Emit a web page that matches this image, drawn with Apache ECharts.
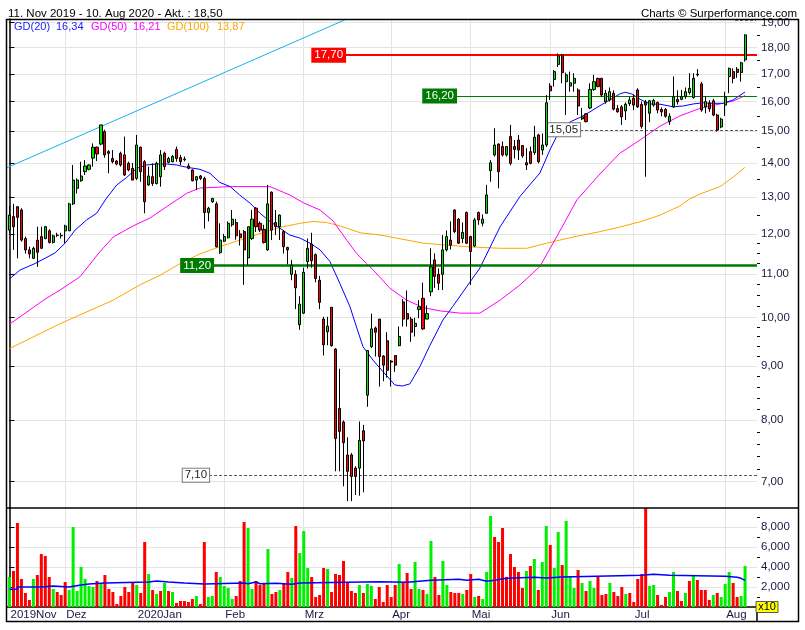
<!DOCTYPE html>
<html><head><meta charset="utf-8">
<script src="https://cdn.jsdelivr.net/npm/echarts@6/dist/echarts.min.js"></script>
<style>html,body{margin:0;padding:0;background:#fff}#c{width:805px;height:630px}</style>
</head><body><div id="c"></div>
<script>
// ---------- data ----------
const monthStarts = [0,14,32,54,74,96,116,136,157,180];
const monthLabels = ['2019Nov','Dez','2020Jan','Feb','Mrz','Apr','Mai','Jun','Jul','Aug'];
const priceTicks = [7,8,9,10,11,12,13,14,15,16,17,18,19];
const priceMinorTicks = [7.2,7.4,7.6,7.8,8.2,8.4,8.6,8.8,9.2,9.4,9.6,9.8,10.25,10.5,10.75,11.25,11.5,11.75,12.5,13.5,14.5,15.5,16.5,17.5,18.5];
const volTicks = [2000,4000,6000,8000];
const volMinorTicks = [1000,3000,5000,7000,9000];
// [open, close, low, high]
const candles = [
[12.10,12.50,12.03,12.75],[12.46,12.19,11.59,12.81],[12.73,12.44,11.38,12.75],[12.64,11.84,11.80,12.69],[11.88,11.59,11.50,11.93],
[11.59,11.49,11.38,11.67],[11.38,11.63,11.36,11.67],[11.84,11.53,11.17,12.19],[11.93,11.63,11.62,12.19],[11.88,12.19,11.86,12.21],
[12.08,11.78,11.75,12.12],[11.78,11.95,11.75,11.98],[11.97,11.96,11.92,12.03],[11.96,11.95,11.88,12.03],[12.08,12.21,11.76,12.24],
[12.08,12.81,12.08,12.84],[12.81,13.49,12.78,13.94],[13.25,13.49,13.10,13.54],[13.47,13.61,13.44,14.04],[13.74,13.91,13.64,14.09],
[13.81,13.94,13.78,13.96],[14.15,14.49,13.89,14.61],[14.49,14.28,14.06,14.51],[14.59,15.21,14.55,15.21],[14.99,14.25,14.16,15.05],
[14.35,14.30,13.69,14.40],[14.14,14.04,13.99,14.40],[14.06,13.97,13.93,14.09],[14.30,13.94,13.89,14.35],[14.25,13.64,13.61,14.83],
[13.99,13.79,13.75,14.04],[13.84,13.49,13.49,14.00],[13.54,14.56,13.49,14.88],[14.49,13.74,13.44,14.51],[14.04,12.87,12.55,14.09],
[13.35,13.61,13.32,13.89],[13.59,13.39,13.32,13.99],[13.39,13.99,13.36,14.04],[13.59,14.25,13.30,14.40],[14.30,13.89,13.79,14.35],
[14.02,14.14,13.99,14.19],[14.04,14.20,14.02,14.25],[14.42,14.14,14.04,14.51],[14.17,14.04,13.94,14.25],[14.12,14.10,14.05,14.20],
[13.91,13.84,13.81,13.99],[13.79,13.47,13.45,13.81],[13.49,13.59,13.20,13.61],[13.61,13.54,13.49,13.64],[13.54,12.57,12.14,13.59],
[12.57,12.69,12.33,12.73],[12.87,12.96,12.84,12.98],[12.81,11.67,11.65,12.87],[11.52,11.84,11.49,12.28],[11.81,11.93,11.79,12.00],
[11.90,12.28,11.88,12.33],[12.24,12.39,12.19,12.64],[12.30,11.95,11.85,12.40],[12.00,11.90,11.70,12.10],[12.06,11.59,10.74,12.10],
[11.39,12.19,11.22,12.19],[11.88,12.39,11.84,12.64],[12.69,12.19,12.05,12.72],[12.28,12.10,12.05,12.33],[12.12,11.78,11.75,12.24],
[11.59,12.81,11.57,13.35],[13.14,12.10,11.84,13.16],[12.30,12.19,11.97,12.64],[12.19,12.50,11.84,12.52],[12.06,11.67,11.50,12.10],
[11.65,11.59,11.23,11.67],[10.99,11.21,10.85,11.34],[10.99,10.67,10.19,11.09],[9.85,10.30,9.74,10.48],[10.10,11.04,10.08,11.15],
[11.30,11.63,11.13,11.88],[11.74,11.32,11.15,12.03],[11.47,10.89,10.80,11.50],[10.85,10.34,10.19,10.95],[9.97,9.43,9.21,10.02],
[9.70,9.82,9.42,10.02],[10.23,9.41,9.39,10.23],[9.34,7.69,7.16,9.36],[8.21,7.81,7.16,8.95],[7.97,7.62,6.93,8.00],
[7.42,7.16,6.71,7.71],[7.42,7.08,6.71,7.45],[7.21,7.08,6.80,7.24],[7.21,7.66,6.79,7.98],[7.82,7.65,6.84,7.92],
[8.45,9.31,8.24,9.32],[9.39,9.76,9.36,10.09],[9.78,9.69,9.19,9.81],[9.97,9.19,8.61,9.97],[9.20,9.02,8.71,9.22],
[9.51,8.92,8.78,9.69],[9.10,9.08,8.61,9.12],[9.21,9.02,8.89,9.22],[9.41,9.60,9.40,9.81],[10.35,9.97,9.81,10.41],
[10.09,9.97,9.81,10.61],[9.97,9.69,9.49,10.02],[9.81,9.88,9.60,10.00],[10.18,10.24,9.99,10.39],[10.43,9.76,9.74,10.79],
[9.97,10.09,9.97,10.27],[10.58,11.17,10.48,11.63],[11.34,10.94,10.67,11.50],[10.99,10.78,10.62,11.13],[10.99,11.59,10.62,11.97],
[11.59,11.93,11.55,12.09],[11.84,11.71,11.60,12.33],[12.64,12.06,12.02,12.66],[12.39,11.76,11.74,12.42],[11.88,12.04,11.76,12.30],
[12.57,11.76,11.74,12.60],[11.93,11.55,10.74,11.95],[11.69,12.37,11.66,12.42],[12.57,12.37,12.24,12.60],[12.28,12.39,12.20,12.52],
[12.55,13.06,12.55,13.35],[13.77,14.01,13.44,14.09],[14.25,14.56,14.20,15.10],[14.59,13.74,13.25,14.61],[14.51,14.25,14.20,14.67],
[14.25,14.51,14.20,14.53],[14.83,13.99,13.93,15.21],[14.51,14.42,14.14,14.72],[14.72,14.40,14.09,14.88],[14.54,14.22,14.16,14.56],
[14.01,13.94,13.79,14.46],[14.35,13.99,13.96,14.51],[14.32,14.81,14.25,15.18],[14.88,14.04,13.99,14.92],[14.40,14.56,14.25,14.93],
[14.56,15.96,14.50,16.23],[16.55,16.38,16.06,16.65],[16.79,17.08,16.53,17.14],[17.35,17.67,17.25,17.77],[17.71,17.04,16.65,17.75],
[16.71,16.96,15.54,17.04],[16.55,16.67,16.35,17.08],[16.65,16.83,16.35,17.02],[16.41,15.85,15.54,16.47],[15.41,15.48,15.37,15.78],
[15.58,15.32,15.29,15.60],[15.78,16.43,15.74,16.65],[16.43,16.71,16.38,16.96],[16.83,16.53,16.51,16.85],[16.83,16.23,16.17,16.85],
[16.00,16.29,15.93,16.41],[16.06,16.35,16.00,16.50],[16.29,15.74,15.70,16.40],[15.76,15.65,15.62,15.88],[15.82,15.48,15.21,15.88],
[15.68,15.91,15.37,15.97],[15.93,16.06,15.85,16.16],[16.12,15.88,15.71,16.25],[16.41,15.82,15.78,16.47],[15.90,15.16,15.09,16.00],
[15.99,15.88,13.59,16.06],[15.60,16.03,15.30,16.06],[15.88,16.04,15.82,16.10],[15.97,15.71,15.60,16.00],[15.73,15.65,15.50,15.80],
[15.73,15.50,15.45,15.78],[15.32,15.50,15.21,15.60],[15.82,16.17,15.78,16.90],[16.08,16.00,15.90,16.40],[16.08,16.17,16.05,16.41],
[16.17,16.35,16.10,16.50],[16.32,16.47,16.25,17.02],[16.14,16.83,16.10,17.02],[16.98,16.96,16.90,17.17],[16.63,15.71,15.65,16.70],
[15.82,16.00,15.60,16.20],[15.95,15.75,15.65,16.05],[16.03,15.54,15.50,16.10],[15.54,15.04,14.99,15.58],[15.14,15.40,15.10,15.45],
[15.88,16.17,15.51,16.35],[16.90,17.20,16.30,17.23],[17.08,16.83,16.65,17.20],[17.17,17.05,16.85,17.25],[17.05,17.41,16.71,17.45],
[17.52,18.50,17.45,18.52]
];
const volumes = [
3000,3600,8400,2800,1400,700,2800,3200,5300,5100,3000,1800,1500,1200,2500,1700,8000,1600,4000,2800,
2100,2000,2600,2300,3200,1800,1500,300,1100,2000,1500,2500,2200,1400,6500,3300,1700,1300,1600,2400,
1600,1500,400,600,600,500,800,1100,300,6500,1000,1100,3500,3000,2100,1900,800,1100,2600,8500,
7900,1800,2600,2200,2400,5800,1300,1500,1700,2300,3500,2900,8100,5400,7600,3900,3000,1000,1200,3900,
3800,1500,3300,3200,4600,2400,1600,1400,2200,1400,2300,2100,800,2000,500,2200,1000,2200,4300,2500,
3400,1800,4500,1800,1700,1300,6600,3000,1200,4600,2200,1500,1400,1400,1300,1700,3300,1000,1100,800,
3500,9100,7000,6500,7900,3000,5300,4000,3500,1900,3600,4100,4800,1700,4500,8100,6200,3900,7500,4200,
8600,3100,1900,3700,2400,1600,2600,1900,3100,1200,1300,2400,1500,1100,2000,1300,1400,500,2800,3300,
9900,2100,2200,1200,200,1000,1500,3500,1600,600,1400,2600,3200,2700,1700,1700,700,1200,1400,1000,
2300,3500,2400,1000,1100,4100
];
const volUp = [
1,0,0,0,0,0,1,0,0,0,0,1,0,0,0,1,1,1,1,1,
1,1,0,1,0,0,0,0,0,0,0,0,1,0,0,1,0,1,0,1,
0,1,0,0,0,0,0,1,0,0,1,1,0,1,1,1,1,0,0,0,
1,1,0,0,0,1,0,0,1,0,0,1,0,1,1,1,0,0,0,0,
1,0,0,0,0,0,0,0,1,0,1,1,0,0,0,0,0,0,1,0,
0,0,1,1,0,1,1,0,0,1,1,0,0,0,1,0,0,1,0,1,
1,1,0,0,0,0,0,0,0,0,1,0,1,0,1,1,0,1,1,0,
1,1,1,0,1,0,1,1,0,0,0,1,0,0,0,1,0,0,0,0,
0,1,1,0,0,0,1,1,0,0,1,0,1,0,0,0,0,1,0,1,
1,1,0,0,1,1
];
// moving averages read at sample points [day index, price]
const gd20 = [[0,10.88],[2.6,11.09],[6.4,11.25],[11.4,11.51],[14,11.76],[16.5,12.10],[19.4,12.37],[21.9,12.55],[24.4,12.97],[27,13.35],[29.5,13.57],[32,13.84],[34.5,13.94],[37,13.97],[39.5,13.97],[42,13.94],[44.6,13.87],[47.9,13.81],[50.4,13.69],[52.9,13.42],[55.5,13.30],[57.9,13.06],[60.5,12.83],[63,12.55],[65.5,12.33],[68,12.15],[70.5,11.97],[73.1,11.89],[75.6,11.76],[78.1,11.59],[80.6,11.30],[83.1,10.77],[85.6,10.25],[86.4,10.03],[88.9,9.39],[91.4,9.12],[94.9,8.81],[96.9,8.64],[98.8,8.62],[100.7,8.66],[103.2,8.99],[105.7,9.41],[109,9.95],[111.5,10.25],[115,10.70],[118.3,11.14],[123.4,12.19],[128.4,13.02],[133.4,13.70],[135.9,14.40],[138.4,15.04],[141,15.31],[143.5,15.46],[146,15.65],[148.5,15.86],[151,16.06],[153.5,16.27],[154.8,16.33],[156.5,16.27],[158.6,16.08],[161.1,15.92],[163.6,15.91],[167,15.82],[169.5,15.85],[172,15.92],[174.5,15.96],[177,15.94],[179.5,15.94],[182,16.06],[185,16.34]];
const gd50 = [[0,9.86],[8.9,10.41],[12.7,10.62],[17.7,10.93],[22.8,11.55],[26.1,11.92],[31.1,12.21],[35.3,12.42],[39.5,12.73],[44.6,13.11],[47.9,13.26],[55.5,13.30],[65.5,13.30],[70.5,13.06],[73.9,12.84],[78.1,12.64],[81.4,12.34],[84.8,11.84],[87.3,11.50],[89.8,11.25],[91.5,11.09],[95.7,10.66],[99.9,10.39],[104.1,10.22],[108.3,10.15],[113.3,10.10],[118.3,10.10],[123.4,10.39],[128.4,10.74],[133.4,11.18],[137.6,11.92],[142.7,12.92],[148.5,13.67],[153.5,14.30],[158.6,14.72],[163.6,15.17],[168.6,15.51],[173.7,15.77],[178.7,15.92],[182,16.02],[185,16.21]];
const gd100 = [[0,9.35],[12.7,9.87],[26.1,10.39],[32.8,10.74],[37.9,10.97],[42.9,11.25],[47.9,11.49],[52.9,11.67],[58,11.84],[63,12.01],[68,12.17],[73.1,12.28],[76.4,12.33],[79.8,12.30],[83.1,12.21],[88.2,12.03],[93.2,11.97],[97.4,11.89],[104.1,11.76],[110,11.71],[115,11.67],[123.4,11.63],[130.1,11.63],[135.1,11.76],[141.8,11.92],[148.5,12.06],[153.5,12.18],[158.6,12.32],[163.6,12.50],[168.6,12.75],[171.1,12.95],[173.7,13.09],[178.7,13.30],[182,13.58],[185,13.87]];
const volAvg = [[0,1770],[2,2000],[8,2100],[11,2000],[15,2200],[18,2300],[20,2400],[24,2500],[35,2600],[37,2500],[40,2400],[44,2300],[49,2400],[59,2330],[60,2500],[62,2330],[63,2370],[67,2270],[71,2400],[73,2530],[93,2470],[100,2570],[103,2670],[106,2770],[113,2670],[115,2770],[118,2570],[120,2670],[122,2870],[125,2970],[132,2900],[135,3000],[139,3170],[159,3270],[162,3170],[166,3070],[180,2970],[183,2870],[184,2670],[185,2670]];
const trendLine = [[-0.63,13.86],[84.83,19.15]];
const levelValues = [17.70,16.20,11.20,15.05,7.10];
const maLast = [16.34,16.21,13.87];

// ---------- chart ----------
const L = Math.log;
const fmt = v => v.toFixed(2).replace('.', ',');
const FONT = 'Liberation Sans';
const LBL = '#1a1a40';
const XMIN = -0.63, XMAX = 188.0;
const YMIN = L(6.611), YMAX = L(19.15);
const GRIDC = '#e4e4e4';

function level(v, startX, opt) {
  return [
    { coord: [startX, L(v)], lineStyle: opt.line,
      label: { show: true, position: 'start', distance: 0, formatter: fmt(v), fontFamily: FONT, fontSize: 11.5,
        color: opt.text, backgroundColor: opt.bg, borderColor: opt.border || opt.bg, borderWidth: 1, padding: [1, 2, 0, 2] } },
    { coord: [XMAX, L(v)] }
  ];
}

const chart = echarts.init(document.getElementById('c'), null, { renderer: 'canvas' });
chart.setOption({
  animation: false,
  backgroundColor: '#fff',
  textStyle: { fontFamily: FONT },
  grid: [
    { left: 7, top: 19, width: 750, height: 489 },
    { left: 7, top: 508, width: 750, height: 99 }
  ],
  xAxis: [
    { type: 'value', gridIndex: 0, min: XMIN, max: XMAX,
      axisLine: { show: false }, axisTick: { show: false, customValues: monthStarts.slice(1) },
      axisLabel: { show: false }, splitLine: { show: true, lineStyle: { color: GRIDC, width: 1 } } },
    { type: 'value', gridIndex: 1, min: XMIN, max: XMAX,
      axisLine: { show: true, onZero: false, lineStyle: { color: '#000', width: 1.5 } },
      axisTick: { show: false, customValues: monthStarts.slice(1) },
      axisLabel: { show: true, customValues: monthStarts, formatter: v => monthLabels[monthStarts.indexOf(Math.round(v))] || '',
        align: 'left', padding: [0, 0, 0, 1], margin: 2, color: LBL, fontSize: 11.5, fontFamily: FONT },
      splitLine: { show: true, lineStyle: { color: GRIDC, width: 1 } } }
  ],
  yAxis: [
    { type: 'value', gridIndex: 0, position: 'right', min: YMIN, max: YMAX,
      axisLine: { show: true, lineStyle: { color: '#000', width: 1.5 } },
      axisTick: { show: true, inside: false, length: 5, customValues: priceTicks.map(L), lineStyle: { color: '#000' } },
      axisLabel: { show: true, customValues: priceTicks.map(L), formatter: v => fmt(Math.exp(v)), color: LBL, fontSize: 11.5, margin: 4, fontFamily: FONT },
      splitLine: { show: true, lineStyle: { color: GRIDC, width: 1 } } },
    { type: 'value', gridIndex: 0, position: 'right', min: YMIN, max: YMAX,
      axisLine: { show: false },
      axisTick: { show: true, length: 3, customValues: priceMinorTicks.map(L), lineStyle: { color: '#000' } },
      axisLabel: { show: false }, splitLine: { show: false } },
    { type: 'value', gridIndex: 1, position: 'right', min: 0, max: 9900,
      axisLine: { show: true, lineStyle: { color: '#000', width: 1.5 } },
      axisTick: { show: true, length: 5, customValues: volTicks, lineStyle: { color: '#000' } },
      axisLabel: { show: true, customValues: volTicks, color: LBL, fontSize: 11.5, margin: 4, fontFamily: FONT },
      splitLine: { show: true, lineStyle: { color: GRIDC, width: 1 } } },
    { type: 'value', gridIndex: 1, position: 'right', min: 0, max: 9900,
      axisLine: { show: false },
      axisTick: { show: true, length: 3, customValues: volMinorTicks, lineStyle: { color: '#000' } },
      axisLabel: { show: false }, splitLine: { show: false } }
  ],
  series: [
    { type: 'line', xAxisIndex: 0, yAxisIndex: 0, data: gd100.map(p => [p[0], L(p[1])]),
      showSymbol: false, lineStyle: { color: '#ffa500', width: 1 }, z: 3, silent: true },
    { type: 'line', xAxisIndex: 0, yAxisIndex: 0, data: gd50.map(p => [p[0], L(p[1])]),
      showSymbol: false, lineStyle: { color: '#ff00ff', width: 1 }, z: 3, silent: true },
    { type: 'line', xAxisIndex: 0, yAxisIndex: 0, data: gd20.map(p => [p[0], L(p[1])]),
      showSymbol: false, lineStyle: { color: '#0000ff', width: 1 }, z: 3, silent: true },
    { type: 'line', xAxisIndex: 0, yAxisIndex: 0, data: trendLine.map(p => [p[0], L(p[1])]),
      showSymbol: false, lineStyle: { color: '#12b4ee', width: 1 }, z: 3, silent: true, clip: true },
    { type: 'candlestick', xAxisIndex: 0, yAxisIndex: 0, barWidth: 2.6, z: 5,
      data: candles.map((c, i) => [i, L(c[0]), L(c[1]), L(c[2]), L(c[3])]),
      itemStyle: { color: '#00e600', color0: '#ff0000', borderColor: '#000', borderColor0: '#000', borderWidth: 1 },
      markLine: { symbol: 'none', silent: true, animation: false, z: 4,
        data: [
          level(levelValues[0], 84.4, { line: { color: '#ff0000', width: 2, type: 'solid' }, bg: '#ff0000', text: '#fff' }),
          level(levelValues[1], 112.3, { line: { color: '#007a00', width: 1.2, type: 'solid' }, bg: '#007a00', text: '#fff' }),
          level(levelValues[2], 51.2, { line: { color: '#007a00', width: 2.5, type: 'solid' }, bg: '#007a00', text: '#fff' }),
          level(levelValues[3], 143.5, { line: { color: '#555', width: 1, type: [3, 2] }, bg: '#fff', text: '#222', border: '#777' }),
          level(levelValues[4], 50.2, { line: { color: '#555', width: 1, type: [3, 2] }, bg: '#fff', text: '#222', border: '#777' })
        ] } },
    { type: 'bar', xAxisIndex: 1, yAxisIndex: 2, barWidth: 3, z: 3,
      data: volumes.map((v, i) => ({ value: [i, v], itemStyle: { color: volUp[i] ? '#00f000' : '#ff0000' } })) },
    { type: 'line', xAxisIndex: 1, yAxisIndex: 2, step: 'end', data: volAvg,
      showSymbol: false, lineStyle: { color: '#0000ff', width: 1.5 }, z: 4, silent: true }
  ],
  graphic: [
    { type: 'text', x: 8, y: 13.5, z: 100, style: { text: '11. Nov 2019 - 10. Aug 2020 - Akt. : 18,50', font: '11.5px "Liberation Sans"', fill: '#000', textAlign: 'left', textVerticalAlign: 'middle', align: 'left', verticalAlign: 'middle' } },
    { type: 'text', x: 797, y: 13.5, z: 100, style: { text: 'Charts \u00a9 Surperformance.com', font: '11.5px "Liberation Sans"', fill: '#000', textAlign: 'right', textVerticalAlign: 'middle', align: 'right', verticalAlign: 'middle' } },
    { type: 'text', x: 14, y: 27, z: 100, style: { text: 'GD(20)', font: '11px "Liberation Sans"', fill: '#2020ff', textVerticalAlign: 'middle', verticalAlign: 'middle' } },
    { type: 'text', x: 56, y: 27, z: 100, style: { text: fmt(maLast[0]), font: '11px "Liberation Sans"', fill: '#2020ff', textVerticalAlign: 'middle', verticalAlign: 'middle' } },
    { type: 'text', x: 91, y: 27, z: 100, style: { text: 'GD(50)', font: '11px "Liberation Sans"', fill: '#ff00ff', textVerticalAlign: 'middle', verticalAlign: 'middle' } },
    { type: 'text', x: 133, y: 27, z: 100, style: { text: fmt(maLast[1]), font: '11px "Liberation Sans"', fill: '#ff00ff', textVerticalAlign: 'middle', verticalAlign: 'middle' } },
    { type: 'text', x: 167, y: 27, z: 100, style: { text: 'GD(100)', font: '11px "Liberation Sans"', fill: '#ffa500', textVerticalAlign: 'middle', verticalAlign: 'middle' } },
    { type: 'text', x: 217, y: 27, z: 100, style: { text: fmt(maLast[2]), font: '11px "Liberation Sans"', fill: '#ffa500', textVerticalAlign: 'middle', verticalAlign: 'middle' } },
    { type: 'rect', z: 100, shape: { x: 6.5, y: 19.5, width: 792, height: 602 }, style: { fill: null, stroke: '#000', lineWidth: 1.5 } },
    { type: 'line', z: 100, shape: { x1: 6.5, y1: 508, x2: 798.5, y2: 508 }, style: { stroke: '#000', lineWidth: 1.5 } },
    { type: 'line', z: 100, shape: { x1: 757, y1: 607, x2: 757, y2: 621.5 }, style: { stroke: '#000', lineWidth: 1.5 } },
    { type: 'line', z: 100, shape: { x1: 735, y1: 20.5, x2: 756, y2: 20.5 }, style: { stroke: '#555', lineWidth: 1, lineDash: [3, 2] } },
    { type: 'rect', z: 100, shape: { x: 756, y: 601.5, width: 22, height: 11 }, style: { fill: '#ffff00', stroke: '#333', lineWidth: 0.8 } },
    { type: 'text', x: 767, y: 607.2, z: 101, style: { text: 'x10', font: '11px "Liberation Sans"', fill: '#000', textAlign: 'center', textVerticalAlign: 'middle', align: 'center', verticalAlign: 'middle' } }
  ]
});
</script>
</body></html>
